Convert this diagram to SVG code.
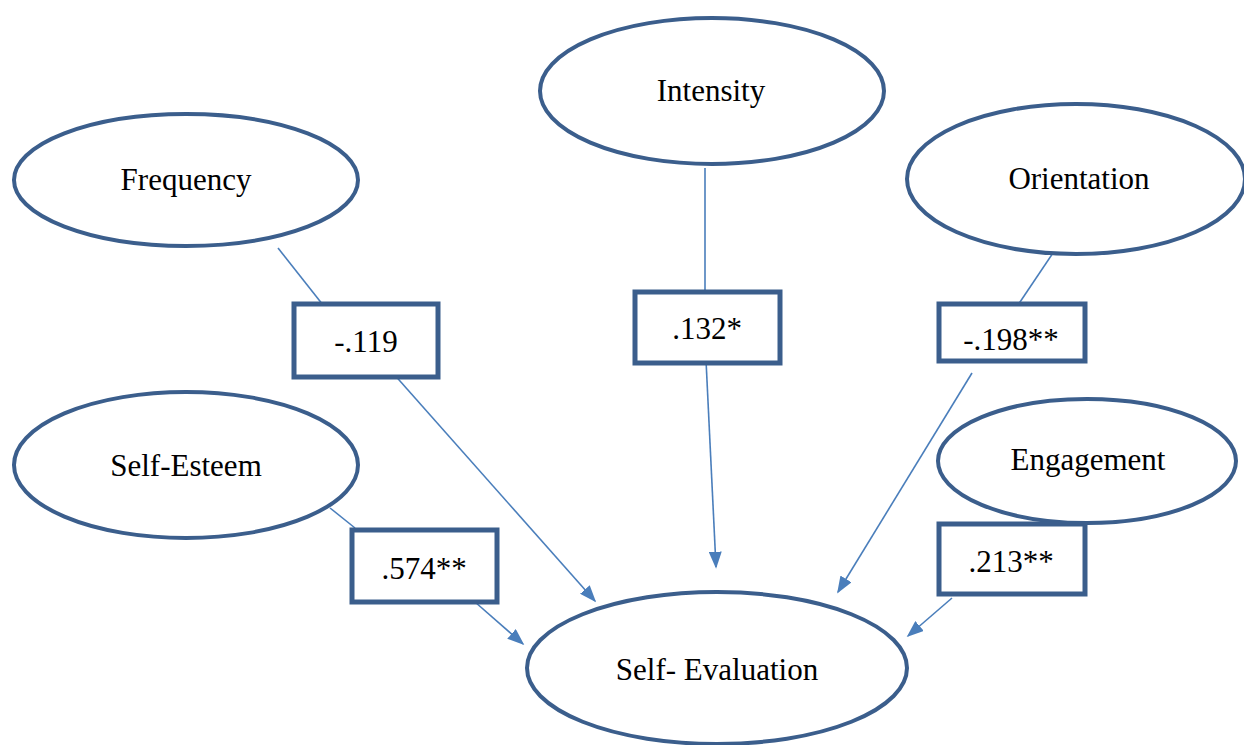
<svg xmlns="http://www.w3.org/2000/svg" width="1244" height="745" viewBox="0 0 1244 745">
<style>
.n{fill:#fff;stroke:#3b5e8c;stroke-width:4}
.b{fill:#fff;stroke:#3b5e8c;stroke-width:5}
.t{font-family:"Liberation Serif","Times New Roman",serif;font-size:31px;fill:#000;text-anchor:middle}
.c line{stroke:#4a7ebb;stroke-width:1.6;fill:none}
</style>
<defs>
<marker id="ah" viewBox="0 0 10 10" refX="9" refY="5" markerWidth="17" markerHeight="13" markerUnits="userSpaceOnUse" orient="auto" preserveAspectRatio="none">
<path d="M0,0 L10,5 L0,10 z" fill="#4a7ebb"/>
</marker>
</defs>
<rect width="1244" height="745" fill="#fff"/>
<g class="c" id="connectors">
<line x1="278" y1="248" x2="323" y2="305"/>
<line x1="392" y1="372" x2="595" y2="601" marker-end="url(#ah)"/>
<line x1="705" y1="168" x2="705" y2="298"/>
<line x1="706" y1="360" x2="716" y2="567" marker-end="url(#ah)"/>
<line x1="1057" y1="247" x2="1018" y2="305"/>
<line x1="972" y1="373" x2="838" y2="592" marker-end="url(#ah)"/>
<line x1="330" y1="508" x2="355" y2="528"/>
<line x1="475" y1="602" x2="523" y2="644" marker-end="url(#ah)"/>
<line x1="952" y1="598" x2="908" y2="636" marker-end="url(#ah)"/>
</g>
<g id="frequency"><ellipse class="n" cx="186" cy="180" rx="172" ry="66"/><text class="t" x="186" y="190">Frequency</text></g>
<g id="intensity"><ellipse class="n" cx="712" cy="91" rx="172" ry="73"/><text class="t" x="711" y="101">Intensity</text></g>
<g id="orientation"><ellipse class="n" cx="1076" cy="179" rx="169" ry="75"/><text class="t" x="1079" y="189">Orientation</text></g>
<g id="selfesteem"><ellipse class="n" cx="186" cy="465" rx="172" ry="73"/><text class="t" x="186" y="476">Self-Esteem</text></g>
<g id="engagement"><ellipse class="n" cx="1087" cy="461" rx="149" ry="62"/><text class="t" x="1088" y="470">Engagement</text></g>
<g id="selfevaluation"><ellipse class="n" cx="717" cy="668" rx="190" ry="76"/><text class="t" x="717" y="680">Self- Evaluation</text></g>
<g id="w_freq"><rect class="b" x="294" y="304" width="144" height="73"/><text class="t" x="366" y="352">-.119</text></g>
<g id="w_int"><rect class="b" x="635" y="292" width="145" height="71"/><text class="t" x="707" y="339">.132*</text></g>
<g id="w_ori"><rect class="b" x="939" y="304" width="146" height="57"/><text class="t" x="1011" y="350">-.198**</text></g>
<g id="w_se"><rect class="b" x="352" y="530" width="145" height="72"/><text class="t" x="424" y="579">.574**</text></g>
<g id="w_eng"><rect class="b" x="939" y="524" width="146" height="70"/><text class="t" x="1011" y="572">.213**</text></g>
</svg>
